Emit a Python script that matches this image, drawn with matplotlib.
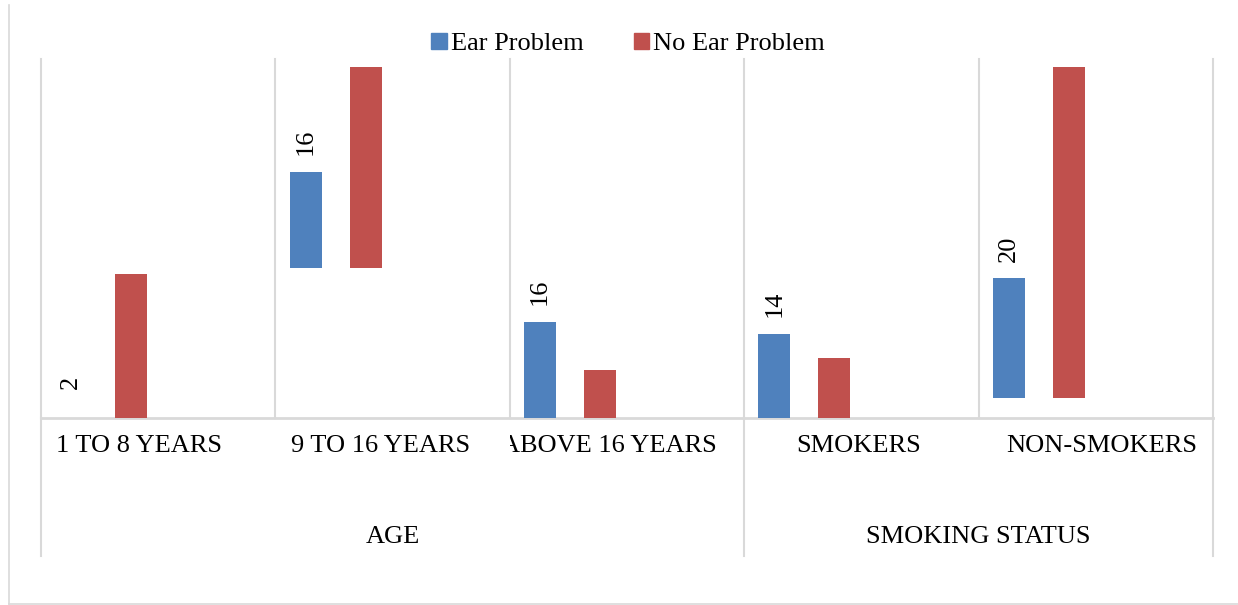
import matplotlib
matplotlib.use('Agg')
import matplotlib.pyplot as plt
from matplotlib.patches import Patch
from matplotlib.lines import Line2D
from matplotlib.transforms import Bbox, TransformedBbox

categories = ['1 TO 8 YEARS', '9 TO 16 YEARS', 'ABOVE 16 YEARS', 'SMOKERS', 'NON-SMOKERS']
groups = ['AGE', 'SMOKING STATUS']
group_spans = [(0, 2), (3, 4)]

ear = [2, 16, 16, 14, 20]
ear_base = [0, 25, 0, 0, 3.3]
no_ear = [24, 33.5, 8, 10, 55.2]
no_ear_base = [0, 25, 0, 0, 3.3]

blue = '#4f81bd'
red = '#c0504d'
grid = '#d9d9d9'

# small horizontal nudges (pixels) for the category labels
label_nudge = [-19, -12, -18, -3, 6]

plt.rcParams['font.family'] = ['Liberation Serif', 'DejaVu Serif']
plt.rcParams['font.size'] = 19

fig = plt.figure(figsize=(12.38, 6.05), dpi=100)
ax = fig.add_axes([41 / 1238, 1 - 418 / 605, 1172 / 1238, 351 / 605])

x = list(range(len(categories)))
w = 0.1365
xb = [i - 0.371 for i in x]
xr = [i - 0.115 for i in x]
bars_b = ax.bar(xb, ear, w, bottom=ear_base, color=blue, zorder=3)
bars_r = ax.bar(xr, no_ear, w, bottom=no_ear_base, color=red, zorder=3)
# first blue bar isn't rendered, only its label
bars_b[0].set_visible(False)

for i in x:
    top = ear_base[i] + ear[i]
    ax.annotate(str(ear[i]), (xb[i], top), xytext=(0, 12), textcoords='offset points',
                rotation=90, ha='center', va='bottom', fontsize=19)

ax.set_xlim(-0.5, 4.5)
ax.set_ylim(0, 58.5)
ax.axis('off')

# vertical separators
xt = ax.get_xaxis_transform()
for b in [-0.5, 0.5, 1.5, 2.5, 3.5, 4.5]:
    ax.plot([b, b], [0, 1.023], transform=xt, color=grid, lw=1.5, clip_on=False, zorder=1)
for b in [-0.5, 2.5, 4.5]:
    ax.plot([b, b], [0, -0.393], transform=xt, color=grid, lw=1.5, clip_on=False, zorder=1)
ax.plot([-0.5, 4.5], [0, 0], transform=xt, color=grid, lw=2, clip_on=False, zorder=2)

# category labels, clipped to their cells
for i, c in enumerate(categories):
    t = ax.annotate(c, (i, -0.08), xycoords=xt, xytext=(label_nudge[i] * 0.72, 0),
                    textcoords='offset points', ha='center', va='center', fontsize=19)
    t.set_clip_box(TransformedBbox(Bbox([[i - 0.5, -0.2], [i + 0.5, 0]]), xt))
    t.set_clip_on(True)

for g, (a, b) in zip(groups, group_spans):
    ax.text((a + b) / 2, -0.34, g, transform=xt, ha='center', va='center', fontsize=19)

# outer frame (left and bottom edges)
fig.add_artist(Line2D([8.5 / 1238, 8.5 / 1238], [1 / 605, 600 / 605],
                      transform=fig.transFigure, color=grid, lw=1.2))
fig.add_artist(Line2D([8.5 / 1238, 1], [1 / 605, 1 / 605],
                      transform=fig.transFigure, color=grid, lw=1.2))

handles = [Patch(color=blue, label='Ear Problem'), Patch(color=red, label='No Ear Problem')]
fig.legend(handles=handles, loc='center', bbox_to_anchor=(628 / 1238, 1 - 44 / 605),
           ncol=2, frameon=False, fontsize=19, handlelength=0.6, handleheight=0.6,
           handletextpad=0.15, columnspacing=1.9, borderpad=0)

fig.savefig('out.png', dpi=100, facecolor='white')
